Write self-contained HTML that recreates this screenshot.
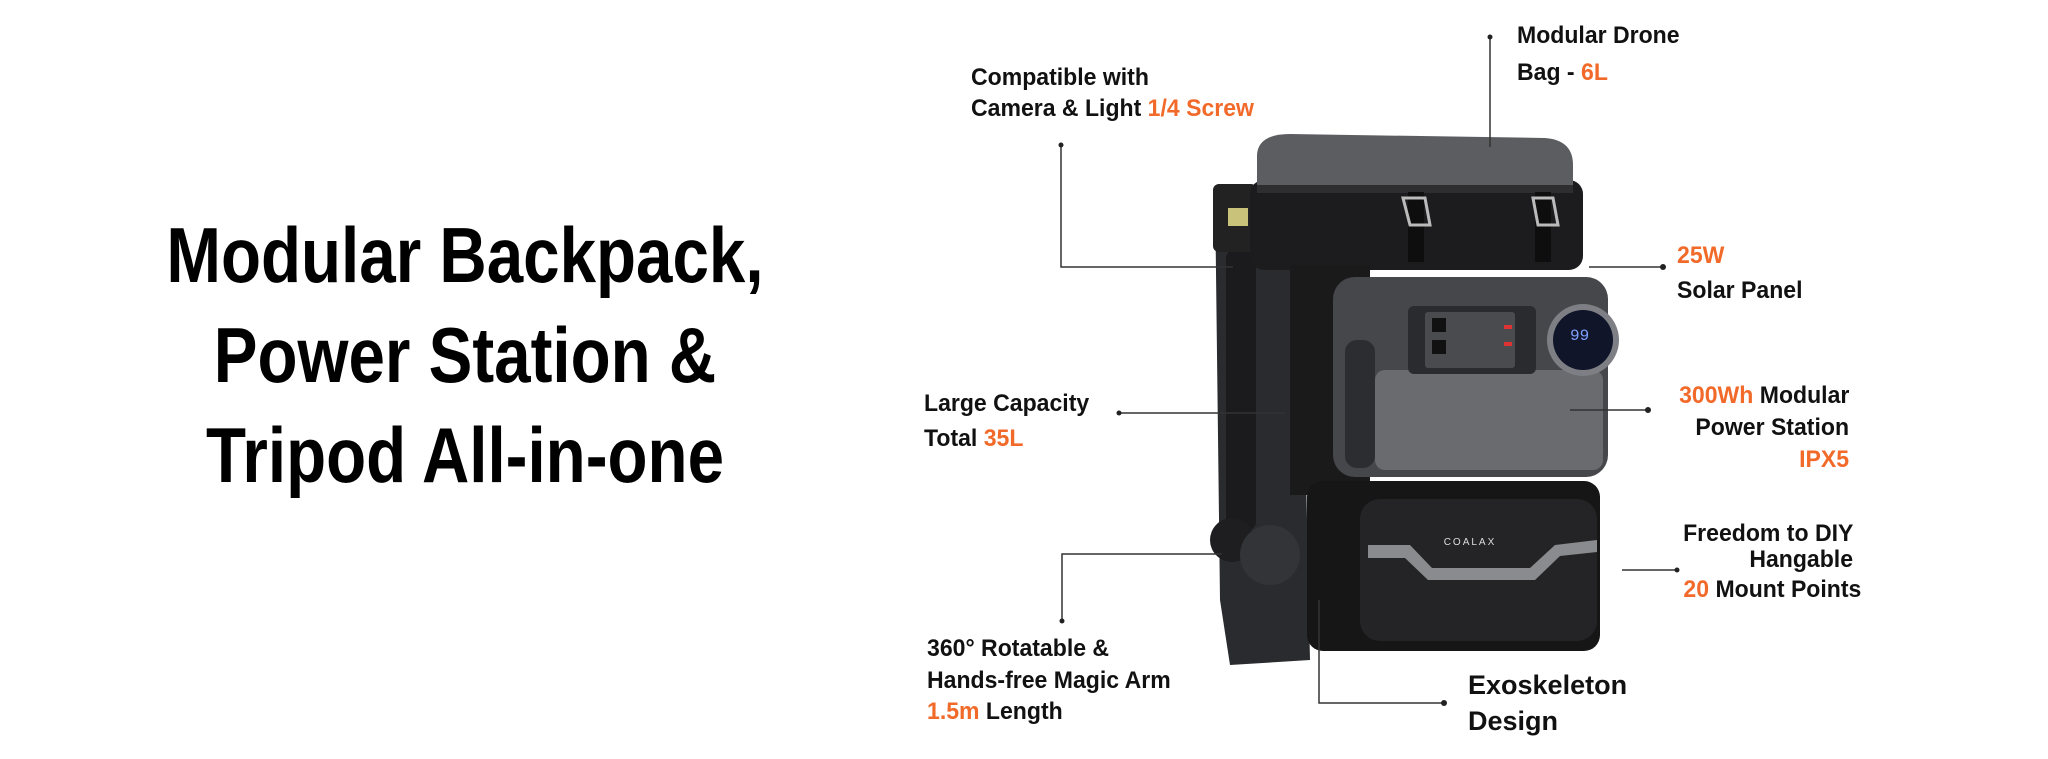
<!DOCTYPE html>
<html><head><meta charset="utf-8"><style>
html,body{margin:0;padding:0;background:#fff;}
body{width:2048px;height:759px;position:relative;overflow:hidden;font-family:"Liberation Sans",Arial,sans-serif;}
.h{position:absolute;left:465px;transform:translateX(-50%) scaleX(0.84);white-space:nowrap;font-weight:bold;font-size:78px;color:#000;line-height:100px;}
.l{position:absolute;font-weight:bold;font-size:24px;color:#111;white-space:nowrap;line-height:30px;transform-origin:left center;transform:scaleX(0.96);}
.r{transform-origin:right center;text-align:right;}
.o{color:#f26a2a;}
</style></head><body>
<div class="h" style="top:205px">Modular Backpack,</div>
<div class="h" style="top:305px">Power Station &amp;</div>
<div class="h" style="top:405px">Tripod All-in-one</div>

<svg width="2048" height="759" style="position:absolute;left:0;top:0">
<path d="M1215 190 L1300 190 L1310 660 L1230 665 L1220 600 Z" fill="#2a2b2e"/>
<rect x="1226" y="250" width="30" height="280" rx="8" fill="#1b1b1d"/>
<rect x="1213" y="184" width="44" height="68" rx="6" fill="#222"/>
<rect x="1228" y="208" width="20" height="18" fill="#c9c27a"/>
<circle cx="1232" cy="540" r="22" fill="#1e1e20"/>
<circle cx="1270" cy="555" r="30" fill="#333437"/>
<rect x="1250" y="180" width="333" height="90" rx="14" fill="#1c1c1e"/>
<path d="M1257 155 Q1258 134 1290 134 L1545 138 Q1573 140 1573 165 L1573 190 L1257 190 Z" fill="#5c5d61"/>
<rect x="1257" y="185" width="316" height="8" fill="#2e2e30"/>
<rect x="1408" y="192" width="16" height="70" fill="#0e0e0e"/>
<rect x="1535" y="192" width="16" height="70" fill="#0e0e0e"/>
<path d="M1403 198 L1425 198 L1430 225 L1410 225 Z" fill="none" stroke="#bbb" stroke-width="3"/>
<path d="M1533 198 L1553 198 L1558 225 L1538 225 Z" fill="none" stroke="#bbb" stroke-width="3"/>
<rect x="1290" y="265" width="80" height="230" fill="#1a1a1b"/>
<rect x="1333" y="277" width="275" height="200" rx="22" fill="#46474b"/>
<rect x="1345" y="340" width="30" height="128" rx="12" fill="#2c2d30"/>
<rect x="1375" y="370" width="228" height="100" rx="10" fill="#6a6b6f"/>
<rect x="1408" y="306" width="128" height="68" rx="6" fill="#2a2b2e"/>
<rect x="1425" y="312" width="90" height="56" rx="3" fill="#4a4b4e"/>
<rect x="1432" y="318" width="14" height="14" fill="#111"/>
<rect x="1432" y="340" width="14" height="14" fill="#111"/>
<rect x="1504" y="325" width="8" height="4" fill="#d33"/>
<rect x="1504" y="342" width="8" height="4" fill="#d33"/>
<circle cx="1583" cy="340" r="36" fill="#7d7f84"/>
<circle cx="1583" cy="340" r="30" fill="#11152a"/>
<text x="1570" y="340" font-family="Liberation Mono" font-size="16" fill="#7fa0ff">99</text>
<rect x="1307" y="481" width="293" height="170" rx="16" fill="#161617"/>
<rect x="1360" y="499" width="237" height="142" rx="20" fill="#242426"/>
<path d="M1368 545 L1410 545 L1432 568 L1530 568 L1555 545 L1597 540 L1597 552 L1560 556 L1535 580 L1428 580 L1405 558 L1368 558 Z" fill="#8a8b8e"/>
<text x="1470" y="545" font-size="10" fill="#ddd" font-family="Liberation Sans" text-anchor="middle" letter-spacing="2">COALAX</text>
<g stroke="#333" stroke-width="1.5" fill="none">
<path d="M1061 145 V267 H1233"/>
<path d="M1490 37 V147"/>
<path d="M1663 267 H1589"/>
<path d="M1119 413 H1285"/>
<path d="M1648 410 H1570"/>
<path d="M1677 570 H1622"/>
<path d="M1062 621 V554 H1222"/>
<path d="M1444 703 H1319 V600"/>
</g>
<g fill="#222">
<circle cx="1061" cy="145" r="2.5"/><circle cx="1490" cy="37" r="2.5"/><circle cx="1663" cy="267" r="3"/>
<circle cx="1119" cy="413" r="2.5"/><circle cx="1648" cy="410" r="3"/><circle cx="1677" cy="570" r="2.5"/>
<circle cx="1062" cy="621" r="2.5"/><circle cx="1444" cy="703" r="3"/>
</g>
</svg>

<div class="l" style="left:971px;top:63px">Compatible with</div>
<div class="l" style="left:971px;top:94px">Camera &amp; Light <span class="o">1/4 Screw</span></div>
<div class="l" style="left:1517px;top:21px">Modular Drone</div>
<div class="l" style="left:1517px;top:58px">Bag - <span class="o">6L</span></div>
<div class="l" style="left:1677px;top:241px"><span class="o">25W</span></div>
<div class="l" style="left:1677px;top:276px">Solar Panel</div>
<div class="l" style="left:924px;top:389px">Large Capacity</div>
<div class="l" style="left:924px;top:424px">Total <span class="o">35L</span></div>
<div class="l r" style="right:199px;top:381px"><span class="o">300Wh</span> Modular</div>
<div class="l r" style="right:199px;top:413px">Power Station</div>
<div class="l r" style="right:199px;top:445px"><span class="o">IPX5</span></div>
<div class="l r" style="right:195px;top:519px">Freedom to DIY</div>
<div class="l r" style="right:195px;top:545px">Hangable</div>
<div class="l r" style="right:187px;top:575px"><span class="o">20</span> Mount Points</div>
<div class="l" style="left:927px;top:634px">360° Rotatable &amp;</div>
<div class="l" style="left:927px;top:666px">Hands-free Magic Arm</div>
<div class="l" style="left:927px;top:697px"><span class="o">1.5m</span> Length</div>
<div class="l" style="left:1468px;top:670px;font-size:27px;transform:none">Exoskeleton</div>
<div class="l" style="left:1468px;top:706px;font-size:27px;transform:none">Design</div>
</body></html>
